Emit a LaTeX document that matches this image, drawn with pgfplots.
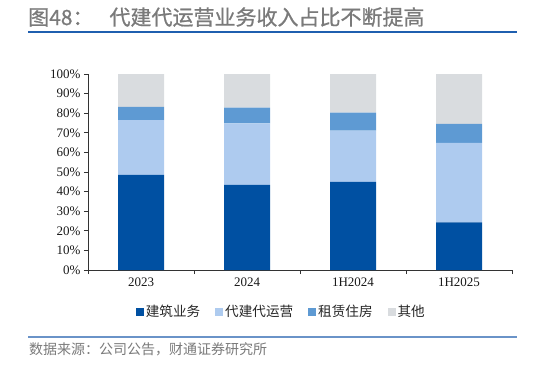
\documentclass[border=0pt]{standalone}
\usepackage{pgfplots}
\pgfplotsset{compat=1.18}
\usepackage{fontspec}
\setmainfont{Liberation Serif}
\newfontfamily\cjk{Noto Sans CJK SC}
\newfontfamily\cjkt[FakeBold=0.8]{Noto Sans CJK SC}
\definecolor{c1}{HTML}{0050A2}
\definecolor{c2}{HTML}{AECBEF}
\definecolor{c3}{HTML}{5E9AD3}
\definecolor{c4}{HTML}{D9DCDF}
\definecolor{tline}{HTML}{1F5FAF}
\definecolor{bline}{HTML}{6A93C8}
\definecolor{ttext}{HTML}{7A7A7A}
\begin{document}
\begin{tikzpicture}
\path[use as bounding box] (0pt,0pt) rectangle (533pt,368pt);
\node[anchor=base west, inner sep=0pt, font=\cjkt\fontsize{21}{24}\selectfont, text=ttext] at (28pt,343pt) {图48：\hspace{16pt}代建代运营业务收入占比不断提高};
\draw[tline, line width=1.5pt] (28pt,336pt) -- (517pt,336pt);
\draw[bline, line width=1.5pt] (28pt,31pt) -- (517pt,31pt);
\node[anchor=base west, inner sep=0pt, font=\cjk\fontsize{14}{16}\selectfont, text=ttext] at (29pt,14pt) {数据来源：公司公告，财通证券研究所};
\begin{axis}[
  at={(88pt,98pt)}, anchor=south west, scale only axis,
  width=424pt, height=196pt,
  xmin=-0.5, xmax=3.5, ymin=0, ymax=100,
  ybar stacked, bar width=46pt,
  axis x line=bottom, axis y line=left,
  axis line style={-, black!80, line width=0.8pt},
  tick align=outside,
  xtick={0,1,2,3},
  xticklabels={2023,2024,1H2024,1H2025},
  major x tick style={draw=none},
  minor xtick={-0.5,0.5,1.5,2.5,3.5},
  minor x tick style={draw=black!80, line width=0.8pt},
  minor tick length=4pt,
  ytick={0,10,...,100},
  yticklabels={0\%,10\%,20\%,30\%,40\%,50\%,60\%,70\%,80\%,90\%,100\%},
  major y tick style={draw=black!80, line width=0.8pt},
  major tick length=4pt,
  ticklabel style={font=\fontsize{13}{15}\selectfont, text=black!90},
  legend style={at={(axis description cs:0.456,-0.214)}, anchor=center, draw=none, fill=none,
    font=\cjk\fontsize{13.6}{15}\selectfont, text=black!85,
    nodes={inner sep=2pt},
    /tikz/every even column/.append style={column sep=13pt}},
  legend columns=4,
  legend image code/.code={\fill[#1] (0pt,-4pt) rectangle (8pt,4pt);},
]
\addplot[fill=c1, draw=none] coordinates {(0,48.5) (1,43.4) (2,44.9) (3,24.3)};
\addplot[fill=c2, draw=none] coordinates {(0,28.0) (1,31.4) (2,26.2) (3,40.5)};
\addplot[fill=c3, draw=none] coordinates {(0,6.7) (1,8.0) (2,9.2) (3,9.7)};
\addplot[fill=c4, draw=none] coordinates {(0,16.8) (1,17.2) (2,19.7) (3,25.5)};
\legend{建筑业务,代建代运营,租赁住房,其他}
\end{axis}
\end{tikzpicture}
\end{document}
